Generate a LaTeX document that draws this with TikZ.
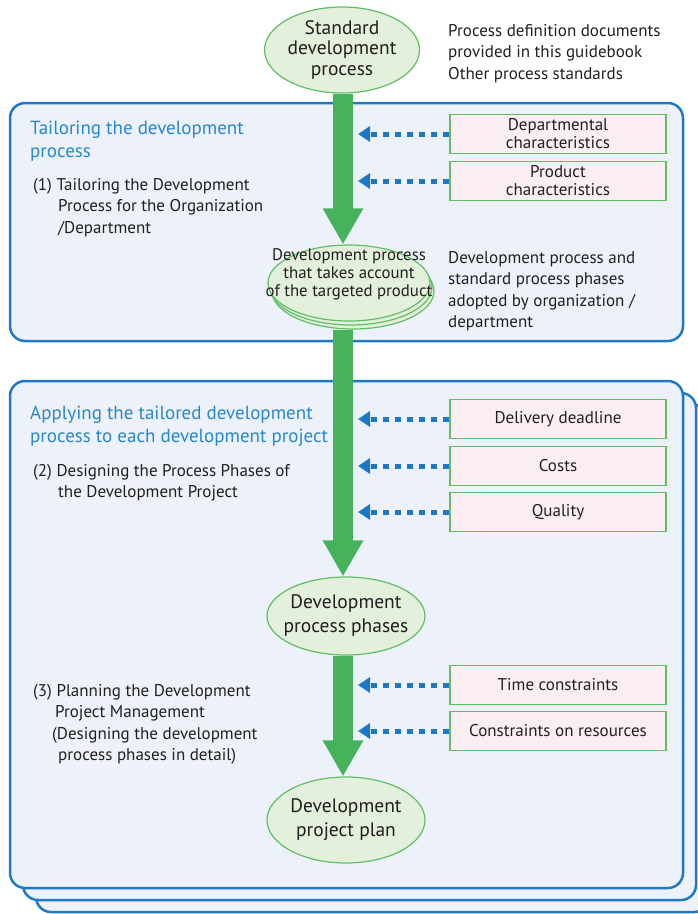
\documentclass[tikz,border=0pt]{standalone}
\usepackage{fontspec}
\setmainfont{PT Sans}
\usetikzlibrary{arrows.meta,shapes.geometric}
\definecolor{flowgreen}{RGB}{70,178,92}
\definecolor{ovalline}{RGB}{96,190,100}
\definecolor{ovalfill}{RGB}{226,240,220}
\definecolor{stageline}{RGB}{30,122,200}
\definecolor{stagefill}{RGB}{237,242,250}
\definecolor{headblue}{RGB}{40,135,205}
\definecolor{feedblue}{RGB}{28,120,196}
\definecolor{factorline}{RGB}{96,190,100}
\definecolor{factorfill}{RGB}{251,238,243}
\definecolor{ink}{RGB}{35,31,32}
\begin{document}
\begin{tikzpicture}[x=1pt, y=-1pt, text=ink,
    phase/.style={ellipse, draw=ovalline, fill=ovalfill, line width=1.2pt, inner sep=0pt, align=center, font=\fontsize{19.5}{24}\selectfont},
    factor/.style={rectangle, draw=factorline, fill=factorfill, line width=1.2pt, minimum width=216pt, minimum height=39pt, inner sep=0pt, align=center, font=\fontsize{17}{18}\selectfont},
    stage/.style={draw=stageline, fill=stagefill, line width=2.5pt, rounded corners=15pt},
    heading/.style={anchor=north west, align=left, inner sep=0pt, text=headblue, font=\fontsize{19}{23}\selectfont},
    note/.style={anchor=north west, align=left, inner sep=0pt, font=\fontsize{17}{21.5}\selectfont},
    flow/.style={draw=flowgreen, line width=20pt, -{Triangle[length=36pt,width=38pt]}},
    feed/.style={draw=feedblue, line width=5pt, dash pattern=on 6pt off 6pt, -{Triangle[length=12pt,width=15pt]}}
]
    \useasboundingbox (0,0) rectangle (698,914);

    % stage frames
    \path[stage] (10,103) rectangle (683,341);
    \path[stage] (36,405) rectangle (709,912);
    \path[stage] (23,393) rectangle (696,900);
    \path[stage] (10,381) rectangle (683,888);

    % processes
    \node[phase, minimum width=155pt, minimum height=86pt, font=\fontsize{19.5}{20.5}\selectfont] (std) at (342,50) {Standard\\development\\process};
    \node[phase, minimum width=162pt, minimum height=76pt] (tailoredC) at (353,291) {};
    \node[phase, minimum width=162pt, minimum height=76pt] (tailoredB) at (351,287) {};
    \node[phase, minimum width=162pt, minimum height=76pt] (tailored) at (349,283) {};
    \node[align=center, inner sep=0pt, font=\fontsize{16.8}{18}\selectfont] (tailoredtext) at (349,274) {Development process\\that takes account\\of the targeted product};
    \node[phase, inner xsep=-8pt, minimum width=158pt, minimum height=78pt] (phases) at (346,616) {Development\\process phases};
    \node[phase, inner xsep=-8pt, minimum width=158pt, minimum height=86pt] (plan) at (346,820) {Development\\project plan};

    % side texts
    \node[note] (stdnote) at (448,24) {Process definition documents\\provided in this guidebook\\Other process standards};
    \node[note] (tailorednote) at (448,251) {Development process and\\standard process phases\\adopted by organization /\\department};
    \node[heading] (head1) at (30,121) {Tailoring the development\\process};
    \node[heading] (head2) at (30,406) {Applying the tailored development\\process to each development project};
    \node[note] (step1) at (33,178) {(1) Tailoring the Development\\\hspace*{25pt}Process for the Organization\\\hspace*{25pt}/Department};
    \node[note] (step2) at (33,464) {(2) Designing the Process Phases of\\\hspace*{25pt}the Development Project};
    \node[note] (step3) at (33,684) {(3) Planning the Development\\\hspace*{22pt}Project Management\\\hspace*{19pt}(Designing the development\\\hspace*{25pt}process phases in detail)};

    % factors
    \node[factor] (dept) at (558,134) {Departmental\\characteristics};
    \node[factor] (product) at (558,181) {Product\\characteristics};
    \node[factor] (deadline) at (558,419) {Delivery deadline};
    \node[factor] (costs) at (558,466) {Costs};
    \node[factor] (quality) at (558,512) {Quality};
    \node[factor] (time) at (558,685) {Time constraints};
    \node[factor] (resources) at (558,731) {Constraints on resources};

    % main flow
    \coordinate (axis) at (343,0);
    \coordinate (inlet) at (358,0);
    \draw[flow] (std.south -| axis) -- (tailored.north -| axis);
    \draw[flow] (tailoredC.south -| axis) -- (phases.north -| axis);
    \draw[flow] (phases.south -| axis) -- (plan.north -| axis);

    % influences
    \foreach \f in {dept,product,deadline,costs,quality,time,resources}
        \draw[feed] (\f.west) -- (\f.west -| inlet);
\end{tikzpicture}
\end{document}
